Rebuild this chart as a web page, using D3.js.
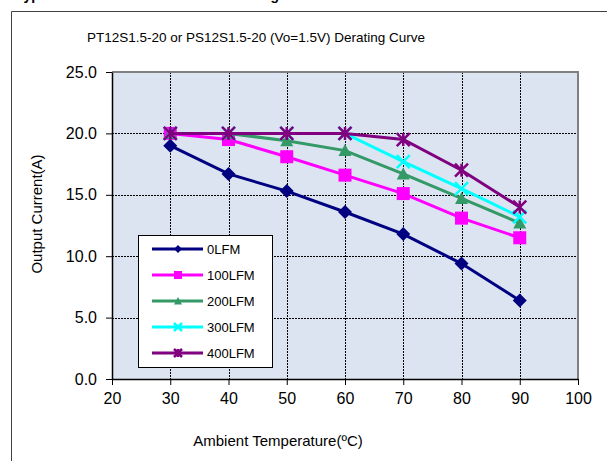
<!DOCTYPE html>
<html>
<head>
<meta charset="utf-8">
<script src="https://cdn.jsdelivr.net/npm/d3@7"></script>
<style>
  html, body { margin: 0; padding: 0; background: #ffffff; overflow: hidden; }
  svg { display: block; font-family: Arial, "Liberation Sans", sans-serif; }
</style>
</head>
<body>
<svg id="chart" width="607" height="461"></svg>
<script>
// Ambient temperature (°C) sample points
const temps = [30, 40, 50, 60, 70, 80, 90];

// Output current (A) per airflow condition
const lfm0   = [19.0, 16.7, 15.3, 13.6, 11.8, 9.4, 6.4];
const lfm100 = [20.0, 19.5, 18.1, 16.6, 15.1, 13.1, 11.5];
const lfm200 = [20.0, 20.0, 19.4, 18.6, 16.7, 14.7, 12.7];
const lfm300 = [20.0, 20.0, 20.0, 20.0, 17.7, 15.5, 13.2];
const lfm400 = [20.0, 20.0, 20.0, 20.0, 19.5, 17.0, 14.0];

const seriesNames = ["0LFM", "100LFM", "200LFM", "300LFM", "400LFM"];
const xTicks = [20, 30, 40, 50, 60, 70, 80, 90, 100];
const yTicks = [0, 5, 10, 15, 20, 25];

const titleText = "PT12S1.5-20 or PS12S1.5-20 (Vo=1.5V) Derating Curve";
const xLabel = "Ambient Temperature(\u00BAC)";
const yLabel = "Output Current(A)";

const series = [
  { name: seriesNames[0], values: lfm0,   color: "#000080", marker: "diamond" },
  { name: seriesNames[1], values: lfm100, color: "#ff00ff", marker: "square" },
  { name: seriesNames[2], values: lfm200, color: "#339966", marker: "triangle" },
  { name: seriesNames[3], values: lfm300, color: "#00ffff", marker: "cross" },
  { name: seriesNames[4], values: lfm400, color: "#800080", marker: "star" }
];

const svg = d3.select("#chart");

// Page heading above the chart frame (runs off the top edge)
svg.append("text").attr("x", 16).attr("y", 0)
  .attr("font-size", 14).attr("font-weight", "bold").attr("fill", "#000")
  .text("Typical Characteristics");
svg.append("text").attr("x", 279).attr("y", 0).attr("text-anchor", "end")
  .attr("font-size", 14).attr("font-weight", "bold").attr("fill", "#000")
  .text("Derating");

// Outer chart frame: only its top and left edges fall inside the page
svg.append("path")
  .attr("d", "M11.5,461 V11.5 H607")
  .attr("fill", "none").attr("stroke", "#404040").attr("stroke-width", 1);

const plot = { left: 112, right: 578, top: 72, bottom: 379 };

const x = d3.scaleLinear().domain([20, 100]).range([plot.left, plot.right]);
const y = d3.scaleLinear().domain([0, 25]).range([plot.bottom, plot.top]);

// Plot background
svg.append("rect")
  .attr("x", plot.left).attr("y", plot.top)
  .attr("width", plot.right - plot.left).attr("height", plot.bottom - plot.top)
  .attr("fill", "#dbe4f0");

// Dotted grid
const grid = svg.append("g").attr("stroke", "#000").attr("stroke-width", 1)
  .attr("stroke-dasharray", "2,1");
grid.selectAll("line.v").data(xTicks.filter(t => t > 20 && t < 100)).join("line")
  .attr("x1", d => Math.round(x(d)) + 0.5).attr("x2", d => Math.round(x(d)) + 0.5)
  .attr("y1", plot.top).attr("y2", plot.bottom);
grid.selectAll("line.h").data(yTicks.filter(t => t > 0 && t < 25)).join("line")
  .attr("y1", d => Math.round(y(d)) + 0.5).attr("y2", d => Math.round(y(d)) + 0.5)
  .attr("x1", plot.left).attr("x2", plot.right);

// Top and right plot border
svg.append("path")
  .attr("d", `M${plot.left},${plot.top} H${plot.right} V${plot.bottom}`)
  .attr("fill", "none").attr("stroke", "#808080").attr("stroke-width", 2);

// Axes
const xAxis = d3.axisBottom(x).tickValues(xTicks).tickSize(6).tickSizeOuter(0)
  .tickFormat(d3.format("d"));
const gx = svg.append("g").attr("transform", `translate(0,${plot.bottom})`).call(xAxis);
gx.select(".domain").attr("stroke", "#000").attr("stroke-width", 1.5);
gx.selectAll(".tick line").attr("stroke", "#000");
gx.selectAll(".tick text").attr("font-size", 16).attr("fill", "#000")
  .attr("font-family", "Arial, 'Liberation Sans', sans-serif").attr("y", 12).attr("dy", "0.8em");

const yAxis = d3.axisLeft(y).tickValues(yTicks).tickSize(6).tickSizeOuter(0)
  .tickFormat(d3.format(".1f"));
const gy = svg.append("g").attr("transform", `translate(${plot.left},0)`).call(yAxis);
gy.select(".domain").attr("stroke", "#000").attr("stroke-width", 1.5);
gy.selectAll(".tick line").attr("stroke", "#000");
gy.selectAll(".tick text").attr("font-size", 16).attr("fill", "#000")
  .attr("font-family", "Arial, 'Liberation Sans', sans-serif").attr("x", -15);

// Titles
svg.append("text").attr("x", 256).attr("y", 42).attr("text-anchor", "middle")
  .attr("font-size", 13.5).attr("fill", "#000").text(titleText);
svg.append("text").attr("x", 278).attr("y", 446).attr("text-anchor", "middle")
  .attr("font-size", 15).attr("fill", "#000").text(xLabel);
svg.append("text")
  .attr("transform", "translate(42,214) rotate(-90)")
  .attr("text-anchor", "middle").attr("font-size", 15).attr("fill", "#000")
  .text(yLabel);

// Marker drawing
function drawMarker(g, type, color, s) {
  const h = s / 2;
  if (type === "diamond") {
    g.append("path").attr("d", `M0,${-h} L${h},0 L0,${h} L${-h},0 Z`).attr("fill", color);
  } else if (type === "square") {
    g.append("rect").attr("x", -h).attr("y", -h).attr("width", s).attr("height", s).attr("fill", color);
  } else if (type === "triangle") {
    g.append("path").attr("d", `M0,${-h} L${h},${h * 0.85} L${-h},${h * 0.85} Z`).attr("fill", color);
  } else if (type === "cross") {
    g.append("path").attr("d", `M${-h},${-h} L${h},${h} M${h},${-h} L${-h},${h}`)
      .attr("stroke", color).attr("stroke-width", 2.5).attr("fill", "none");
  } else if (type === "star") {
    g.append("path").attr("d", `M${-h},${-h} L${h},${h} M${h},${-h} L${-h},${h} M0,${-h} L0,${h}`)
      .attr("stroke", color).attr("stroke-width", 2.5).attr("fill", "none");
  }
}

const line = d3.line().x((d, i) => x(temps[i])).y(d => y(d));

series.forEach(s => {
  svg.append("path").datum(s.values)
    .attr("d", line).attr("fill", "none")
    .attr("stroke", s.color).attr("stroke-width", 3);
  s.values.forEach((v, i) => {
    const g = svg.append("g").attr("transform", `translate(${x(temps[i])},${y(v)})`);
    drawMarker(g, s.marker, s.color, s.marker === "diamond" ? 14 : 13);
  });
});

// Legend
const legend = svg.append("g");
legend.append("rect")
  .attr("x", 138.5).attr("y", 235.5).attr("width", 134).attr("height", 132)
  .attr("fill", "#fff").attr("stroke", "#000").attr("stroke-width", 1);
series.forEach((s, i) => {
  const ly = 249 + i * 26;
  legend.append("line").attr("x1", 152).attr("x2", 203).attr("y1", ly).attr("y2", ly)
    .attr("stroke", s.color).attr("stroke-width", 3);
  const g = legend.append("g").attr("transform", `translate(178,${ly})`);
  drawMarker(g, s.marker, s.color, 8);
  legend.append("text").attr("x", 207).attr("y", ly).attr("dy", "0.36em")
    .attr("font-size", 13).attr("fill", "#000").text(s.name);
});
</script>
</body>
</html>
